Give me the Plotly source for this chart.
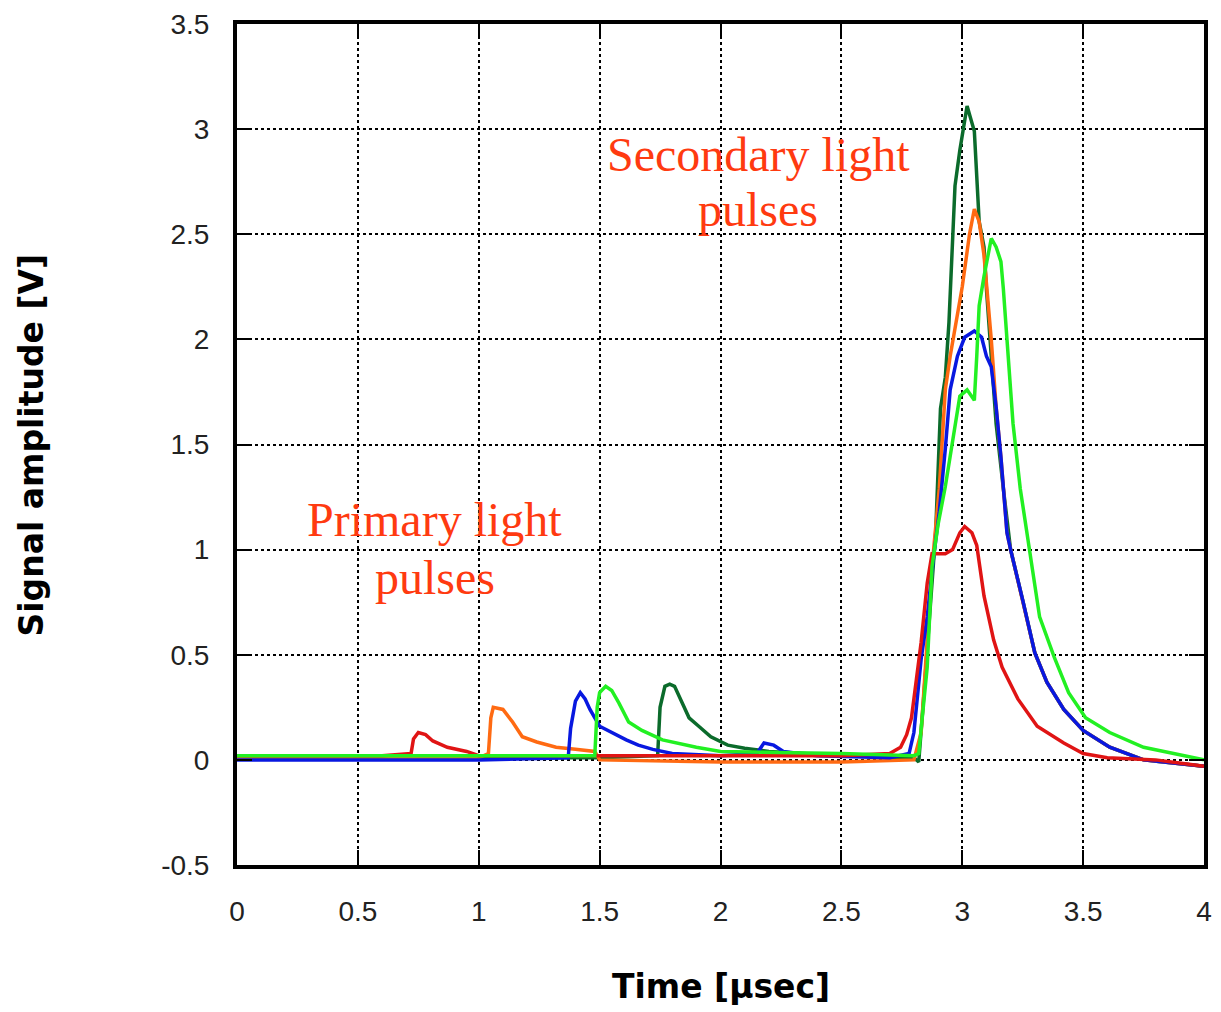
import plotly.graph_objects as go

# ---------------- data ----------------
red_t = [0, 0.3, 0.6, 0.72, 0.73, 0.75, 0.78, 0.81, 0.87, 0.95, 1.0, 1.5, 2.0, 2.5, 2.7,
         2.745, 2.77, 2.79, 2.81, 2.83, 2.855, 2.875, 2.93, 2.96, 2.99, 3.01, 3.04, 3.06,
         3.09, 3.13, 3.165, 3.23, 3.31, 3.42, 3.5, 3.6, 3.8, 4.0]
red_v = [0.02, 0.02, 0.02, 0.03, 0.10, 0.13, 0.12, 0.09, 0.06, 0.04, 0.02, 0.02, 0.02, 0.02, 0.03,
         0.06, 0.12, 0.20, 0.38, 0.56, 0.84, 0.98, 0.98, 1.00, 1.08, 1.11, 1.08, 1.02,
         0.78, 0.57, 0.44, 0.29, 0.16, 0.08, 0.03, 0.01, 0.0, -0.03]

orange_t = [0, 0.5, 1.0, 1.04, 1.05, 1.06, 1.10, 1.14, 1.18, 1.24, 1.32, 1.40, 1.48, 1.5, 2.0,
            2.5, 2.8, 2.83, 2.855, 2.875, 2.905, 2.93, 2.95, 2.98, 3.0, 3.03, 3.05, 3.07, 3.09,
            3.12, 3.14, 3.16, 3.185, 3.2, 3.25, 3.30, 3.35, 3.42, 3.5, 3.61, 3.75, 3.9, 4.0]
orange_v = [0.01, 0.01, 0.01, 0.03, 0.20, 0.25, 0.24, 0.18, 0.11, 0.085, 0.06, 0.05, 0.04, 0.0, -0.01,
            -0.01, 0.0, 0.13, 0.60, 0.92, 1.29, 1.76, 1.92, 2.11, 2.25, 2.50, 2.62, 2.56, 2.40,
            2.00, 1.68, 1.44, 1.08, 1.00, 0.76, 0.51, 0.37, 0.24, 0.14, 0.06, 0.0, -0.02, -0.03]

blue_t = [0, 0.5, 1.0, 1.37, 1.38, 1.40, 1.42, 1.44, 1.46, 1.50, 1.55, 1.61, 1.66, 1.72, 1.8,
          2.0, 2.15, 2.18, 2.22, 2.26, 2.4, 2.7, 2.78, 2.80, 2.83, 2.855, 2.88, 2.905, 2.93,
          2.95, 2.98, 3.01, 3.05, 3.08, 3.10, 3.12, 3.14, 3.16, 3.185, 3.2, 3.25, 3.30, 3.35,
          3.42, 3.5, 3.61, 3.75, 3.9, 4.0]
blue_v = [0.0, 0.0, 0.0, 0.01, 0.15, 0.28, 0.32, 0.29, 0.24, 0.16, 0.13, 0.095, 0.07, 0.05, 0.03,
          0.02, 0.03, 0.08, 0.07, 0.04, 0.02, 0.01, 0.03, 0.13, 0.48, 0.68, 0.95, 1.18, 1.48,
          1.76, 1.92, 2.01, 2.04, 2.01, 1.92, 1.87, 1.68, 1.44, 1.08, 1.00, 0.76, 0.51, 0.37,
          0.24, 0.14, 0.06, 0.0, -0.02, -0.03]

dkgreen_t = [0, 0.5, 1.0, 1.5, 1.74, 1.75, 1.77, 1.79, 1.81, 1.83, 1.87, 1.91, 1.96, 2.03, 2.1,
             2.2, 2.5, 2.8, 2.82, 2.84, 2.87, 2.89, 2.91, 2.93, 2.945, 2.96, 2.97, 2.99, 3.02,
             3.05, 3.06, 3.07, 3.09, 3.10, 3.12, 3.14, 3.17, 3.19, 3.2, 3.25, 3.30, 3.35, 3.42,
             3.5, 3.61, 3.75, 3.9, 4.0]
dkgreen_v = [0.01, 0.01, 0.01, 0.01, 0.02, 0.25, 0.35, 0.36, 0.35, 0.30, 0.20, 0.16, 0.11, 0.07, 0.055,
             0.04, 0.02, 0.01, -0.01, 0.29, 0.76, 1.08, 1.67, 1.82, 2.08, 2.51, 2.73, 2.90, 3.11,
             2.99, 2.75, 2.56, 2.44, 2.24, 1.92, 1.60, 1.29, 1.08, 1.00, 0.76, 0.51, 0.37, 0.24,
             0.14, 0.06, 0.0, -0.02, -0.03]

ltgreen_t = [0, 0.5, 1.0, 1.48, 1.49, 1.50, 1.525, 1.55, 1.58, 1.62, 1.675, 1.76, 1.9, 2.0, 2.5,
             2.8, 2.82, 2.855, 2.875, 2.90, 2.93, 2.97, 2.99, 3.02, 3.05, 3.06, 3.07, 3.09, 3.12,
             3.14, 3.16, 3.17, 3.19, 3.21, 3.24, 3.27, 3.28, 3.32, 3.38, 3.44, 3.51, 3.61, 3.75,
             3.95, 4.0]
ltgreen_v = [0.02, 0.02, 0.02, 0.02, 0.25, 0.32, 0.35, 0.33, 0.27, 0.18, 0.14, 0.095, 0.06, 0.04, 0.03,
             0.02, 0.03, 0.44, 0.92, 1.12, 1.30, 1.60, 1.73, 1.76, 1.71, 1.92, 2.16, 2.30, 2.48,
             2.44, 2.37, 2.24, 1.92, 1.60, 1.29, 1.06, 0.98, 0.68, 0.49, 0.32, 0.20, 0.13, 0.06,
             0.015, 0.0]

x_ticks = [0, 0.5, 1, 1.5, 2, 2.5, 3, 3.5, 4]
x_tick_labels = ["0", "0.5", "1", "1.5", "2", "2.5", "3", "3.5", "4"]
y_ticks = [-0.5, 0, 0.5, 1, 1.5, 2, 2.5, 3, 3.5]
y_tick_labels = ["-0.5", "0", "0.5", "1", "1.5", "2", "2.5", "3", "3.5"]

# ---------------- figure ----------------
series = [
    (dkgreen_t, dkgreen_v, "#0B6B2B"),
    (orange_t, orange_v, "#FF6A12"),
    (blue_t, blue_v, "#0818E0"),
    (red_t, red_v, "#E01414"),
    (ltgreen_t, ltgreen_v, "#22F022"),
]

fig = go.Figure()
for t, v, c in series:
    fig.add_trace(go.Scatter(x=t, y=v, mode="lines", line=dict(color=c, width=3.5),
                             showlegend=False, hoverinfo="skip"))

axis_common = dict(
    showline=True, linecolor="black", linewidth=4, mirror="ticks",
    ticks="inside", ticklen=15, tickwidth=2, tickcolor="black",
    showgrid=True, gridcolor="black", griddash="dot", gridwidth=2,
    zeroline=False,
    tickfont=dict(family="Liberation Sans, Arial, sans-serif", size=28, color="#222"),
    ticklabelstandoff=18,
)

fig.update_xaxes(range=[0, 4], tickvals=x_ticks, ticktext=x_tick_labels, **axis_common)
fig.update_yaxes(range=[-0.5, 3.5], tickvals=y_ticks, ticktext=y_tick_labels, **axis_common)

text_font = dict(family="Liberation Serif, Times New Roman, serif", size=48, color="#FF3A10")
fig.add_annotation(x=2.156, y=2.88, xref="x", yref="y", text="Secondary light",
                   showarrow=False, font=text_font)
fig.add_annotation(x=2.156, y=2.62, xref="x", yref="y", text="pulses",
                   showarrow=False, font=text_font)
fig.add_annotation(x=0.819, y=1.143, xref="x", yref="y", text="Primary light",
                   showarrow=False, font=text_font)
fig.add_annotation(x=0.819, y=0.867, xref="x", yref="y", text="pulses",
                   showarrow=False, font=text_font)

title_font = dict(family="DejaVu Sans, Verdana, sans-serif", size=33, color="black")
fig.add_annotation(x=0.5, y=-0.145, xref="paper", yref="paper",
                   text="<b>Time [µsec]</b>", showarrow=False, font=title_font,
                   xanchor="center", yanchor="middle")
fig.add_annotation(x=-0.212, y=0.5, xref="paper", yref="paper",
                   text="<b>Signal amplitude [V]</b>", showarrow=False, font=title_font,
                   textangle=-90, xanchor="center", yanchor="middle")

fig.update_layout(
    width=1221, height=1012,
    margin=dict(l=237, r=9, t=24, b=147),
    paper_bgcolor="white", plot_bgcolor="white",
)

fig.write_html("out.html")
